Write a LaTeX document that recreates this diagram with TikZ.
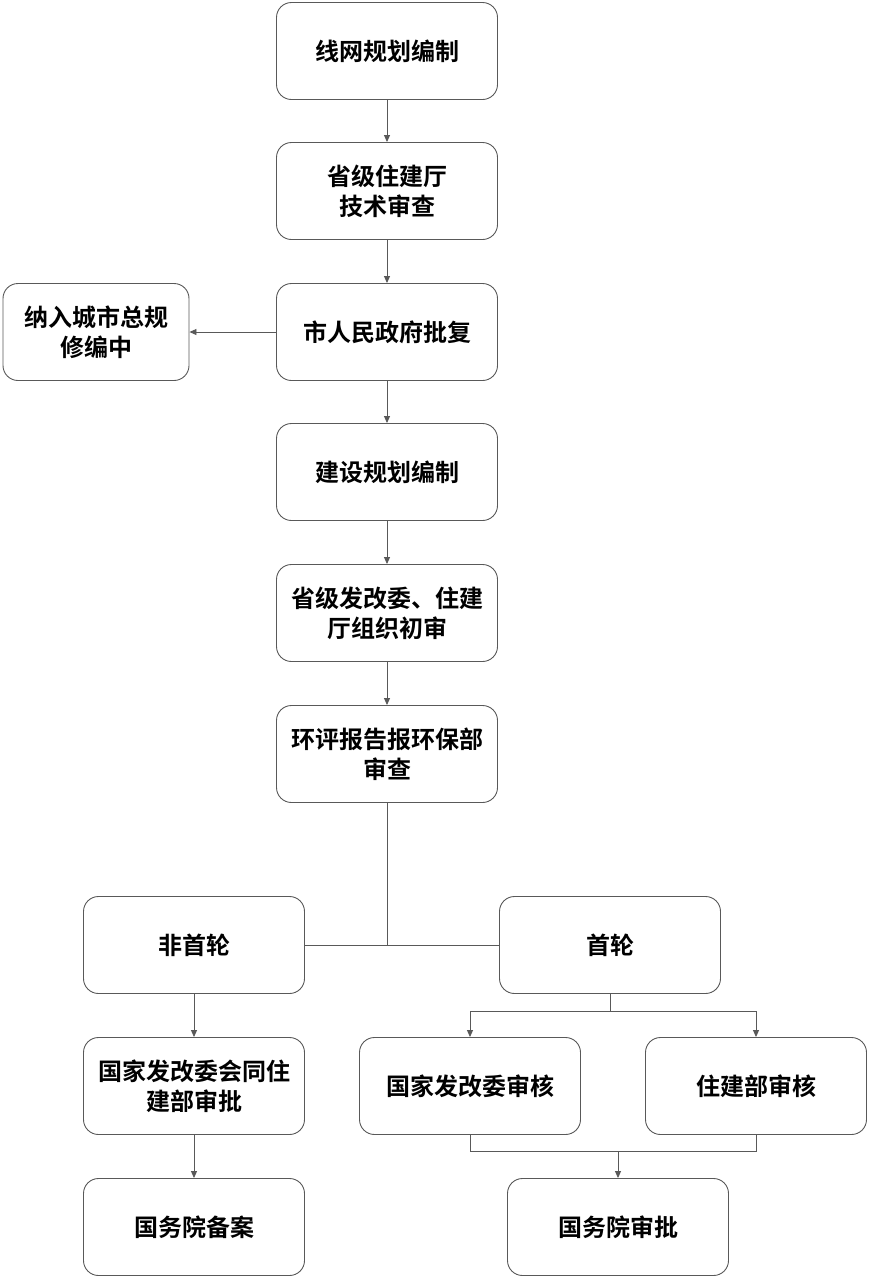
\documentclass[tikz,border=0pt]{standalone}
\usepackage{fontspec}
\setmainfont{Noto Sans CJK SC}[BoldFont={Noto Sans CJK SC Bold}]
\usetikzlibrary{arrows.meta}
\begin{document}
\begin{tikzpicture}[x=1pt,y=-1pt,
  box/.style={draw=black!65, line width=0.9pt, rounded corners=15pt, minimum width=221pt, minimum height=97pt, align=center, inner sep=0pt, font=\bfseries\fontsize{24}{30}\selectfont},
  ln/.style={draw=black!65, line width=0.9pt},
  arr/.style={ln, -{Triangle[length=7pt,width=6pt]}}]
\useasboundingbox (0,0) rectangle (869,1280);
\fill[white] (0,0) rectangle (869,1280);
\node[box] (a1) at (387,51) {线网规划编制};
\node[box] (a2) at (387,191) {省级住建厅\\技术审查};
\node[box] (a3) at (387,332) {市人民政府批复};
\node[box, minimum width=186pt] (a4) at (96,332) {纳入城市总规\\修编中};
\node[box] (a5) at (387,472) {建设规划编制};
\node[box] (a6) at (387,613) {省级发改委、住建\\厅组织初审};
\node[box] (a7) at (387,754) {环评报告报环保部\\审查};
\node[box] (b1) at (194,945) {非首轮};
\node[box] (b2) at (610,945) {首轮};
\node[box] (c1) at (194,1086) {国家发改委会同住\\建部审批};
\node[box] (c2) at (470,1086) {国家发改委审核};
\node[box] (c3) at (756,1086) {住建部审核};
\node[box] (d1) at (194,1227) {国务院备案};
\node[box] (d2) at (618,1227) {国务院审批};
\draw[arr] (a1) -- (a2);
\draw[arr] (a2) -- (a3);
\draw[arr] (a3) -- (a5);
\draw[arr] (a5) -- (a6);
\draw[arr] (a6) -- (a7);
\draw[arr] (a3.west) -- (a4.east);
\coordinate (m) at (387,945);
\draw[ln] (a7.south) -- (m);
\draw[ln] (b1.east) -- (b2.west);
\coordinate (s) at (610,1011);
\draw[ln] (b2.south) -- (s);
\draw[arr] (s) -| (c2.north);
\draw[arr] (s) -| (c3.north);
\coordinate (j) at (618,1151);
\draw[ln] (c2.south) -- (c2.south |- j) -| (c3.south);
\draw[arr] (j) -- (d2.north);
\draw[arr] (b1) -- (c1);
\draw[arr] (c1) -- (d1);
\end{tikzpicture}
\end{document}
